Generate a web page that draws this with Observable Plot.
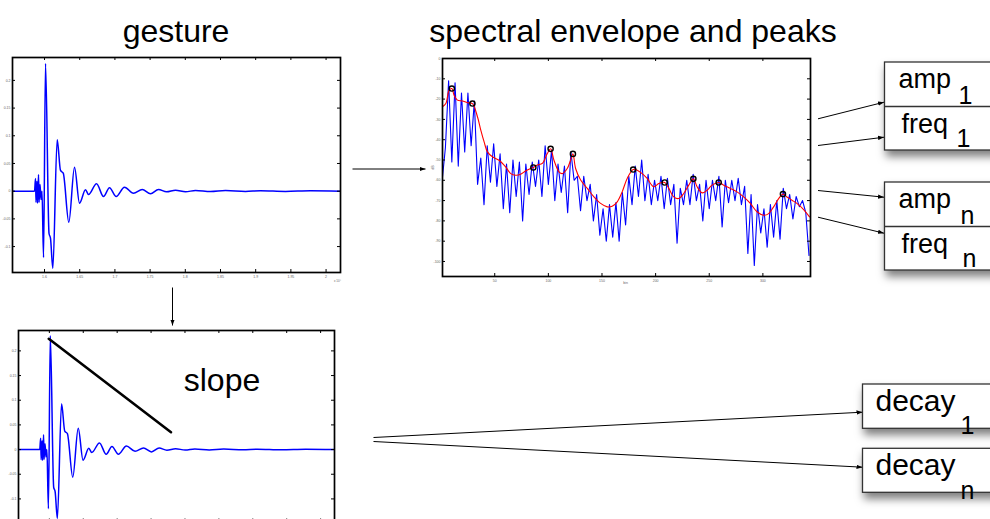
<!DOCTYPE html>
<html><head><meta charset="utf-8">
<script src="https://cdn.jsdelivr.net/npm/d3@7"></script>
<script src="https://cdn.jsdelivr.net/npm/@observablehq/plot@0.6"></script>
<style>
html,body{margin:0;padding:0;width:990px;height:519px;overflow:hidden;background:#fff;}
#wrap{position:relative;width:990px;height:519px;overflow:hidden;font-family:"Liberation Sans",Arial,Helvetica,sans-serif;}
#wrap svg{position:absolute;margin:0;overflow:visible;}
</style></head><body><div id="wrap"></div>
<script>
// ---------- data ----------
// gesture (time in samples x 10^4, amplitude)
const gestureX = [1.5545,1.5858,1.5872,1.5879,1.5893,1.5901,1.5915,1.5922,1.5936,1.5950,1.5964,1.5986,1.6014,1.6064,1.6085,1.6118,1.6180,1.6227,1.6266,1.6345,1.6426,1.6497,1.6582,1.6625,1.6739,1.6838,1.6923,1.7018,1.7136,1.7264,1.7388,1.7506,1.7619,1.7733,1.7861,1.8003,1.8145,1.8358,1.8571,1.8855,1.9068,1.9423,1.9778,2.0205];
const gestureY = [0,0,0.0229,-0.0204,0.018,-0.022,0.03,-0.02,0.012,-0.015,0,-0.1197,0.2305,-0.0764,-0.085,-0.1395,0.0928,0.0374,0.0325,-0.056,0.0433,-0.0217,0.0025,-0.006,0.0134,-0.0096,0.0061,-0.0096,0.0072,-0.0036,0.0031,-0.0047,0.0031,-0.0012,0.0018,-0.001,0.0012,-0.0008,0.001,-0.0005,0.0008,-0.0004,0.0006,0];
const gestureXTicks = [1.6,1.65,1.7,1.75,1.8,1.85,1.9,1.95,2];
const gestureYTicks = [-0.1,-0.05,0,0.05,0.1,0.15,0.2];
const gestureXDomain = [1.5545, 2.0205];
const gestureYDomain = [-0.1468, 0.2413];

// spectrum (bin, dB), sampled every 3 bins
const specBins = d3.range(1, 344, 3);
const specDb = [-60,-44,-11,-51,-12,-53,-17,-46,-17,-43,
  -21,-62,-49,-72,-43,-61,-42,-63,-47,-74,
  -52,-76,-50,-68,-51,-80,-52,-67,-51,-63,
  -50,-68,-43,-62,-45,-70,-52,-66,-53,-76,
  -46,-60,-58,-75,-58,-70,-62,-80,-67,-87,
  -74,-90,-72,-88,-71,-90,-66,-82,-58,-72,
  -53,-68,-50,-70,-57,-72,-60,-70,-58,-74,
  -59,-72,-62,-91,-64,-72,-60,-72,-57,-70,
  -62,-80,-60,-74,-60,-70,-58,-83,-60,-71,
  -60,-70,-59,-72,-63,-96,-67,-102,-72,-86,
  -74,-93,-72,-88,-70,-89,-64,-74,-67,-79,
  -68,-73,-70,-76,-97];
const envBin = [1.3,4.4,7.5,10.0,12.1,15.2,19.9,24.5,29.2,33.9,37.0,40.1,43.2,47.8,54.0,60.2,64.9,69.5,74.2,78.8,83.5,86.0,89.7,94.4,99.0,102.1,105.2,109.9,113.0,117.6,120.7,122.9,125.4,130.1,136.3,142.5,148.7,154.9,159.5,164.2,168.8,173.5,179.1,182.8,187.5,192.1,198.3,203.0,208.5,212.3,216.9,221.6,226.2,230.9,235.2,238.7,243.3,248.0,252.6,258.8,263.5,269.7,275.9,282.1,288.3,294.5,300.7,305.4,310.0,314.7,318.7,322.4,327.1,331.7,338.0,343.5];
const envDb = [-23.8,-22.2,-15.6,-14.8,-18.1,-20.5,-20.9,-21.8,-22.2,-28.7,-35.3,-41.1,-46.0,-48.4,-50.1,-53.4,-56.7,-57.5,-57.0,-55.4,-54.2,-53.7,-52.5,-51.7,-46.8,-44.5,-50.1,-55.8,-56.7,-54.2,-50.1,-47.0,-54.2,-59.9,-64.0,-68.2,-71.4,-73.1,-72.8,-70.6,-65.7,-59.1,-54.7,-55.0,-56.7,-59.1,-63.2,-61.6,-61.1,-64.0,-68.2,-69.0,-66.5,-62.4,-59.3,-63.2,-66.2,-64.9,-62.4,-61.1,-62.4,-64.0,-65.7,-68.2,-71.4,-75.5,-77.2,-76.4,-73.1,-69.0,-66.8,-68.2,-69.8,-71.4,-74.4,-78.0];
const peakBin = [10.0,29.2,86.0,102.1,122.9,179.1,208.5,235.2,258.8,318.7];
const peakDb = [-14.8,-22.2,-53.7,-44.5,-47.0,-54.7,-61.1,-59.3,-61.1,-66.8];
const specXTicks = [50,100,150,200,250,300];
const specYTicks = [0,-10,-20,-30,-40,-50,-60,-70,-80,-90,-100];
const specXDomain = [1.3, 344.4];
const specYDomain = [-107.4, 0];

// slope annotation (in gesture units)
const slopeX = [1.5991, 1.7794];
const slopeY = [0.2245, 0.0351];

// diagram labels
const titles = [{t:"gesture", x:175.5, y:41}, {t:"spectral envelope and peaks", x:632.5, y:41}];
const boxes = [
  {x1:884.5,x2:1000,y1:62,y2:150},{x1:884.5,x2:1000,y1:182,y2:270},
  {x1:862.5,x2:1000,y1:384,y2:428.3},{x1:862.5,x2:1000,y1:448.3,y2:492.3}];
const dividers = [{x1:884.5,x2:1000,y:106},{x1:884.5,x2:1000,y:226}];
const boxLabels = [
  {t:"amp",x:898,y:87.5},{t:"freq",x:901,y:132.5},{t:"amp",x:898,y:207.5},{t:"freq",x:901,y:252}];
const decayLabels = [{t:"decay",x:875,y:410},{t:"decay",x:875,y:474}];
const subLabels = [
  {t:"1",x:958,y:103},{t:"1",x:956,y:146.5},{t:"n",x:960,y:223},{t:"n",x:962,y:266.5},
  {t:"1",x:960,y:433},{t:"n",x:960,y:498}];
const arrows = [
  {x1:352,y1:168.5,x2:425,y2:168.5},
  {x1:172,y1:287,x2:172,y2:325},
  {x1:817.5,y1:118.3,x2:883.5,y2:101.7},
  {x1:817.5,y1:145,x2:883.5,y2:136.7},
  {x1:817.5,y1:190,x2:883.5,y2:196.7},
  {x1:817.5,y1:216.7,x2:883.5,y2:232.7},
  {x1:373,y1:437,x2:862,y2:411.7},
  {x1:373,y1:441,x2:862,y2:466.7}];

// ---------- helpers ----------
const FONT = '"Liberation Sans",Arial,Helvetica,sans-serif';
const wrap = document.getElementById("wrap");
function place(svg, left, top) {
  svg.style.left = left + "px"; svg.style.top = top + "px";
  svg.style.background = "transparent";
  wrap.appendChild(svg);
}
function frameMarks(xt, yt, iw, ih, len, fmtX, fmtY, xLabels) {
  return [
    Plot.tickX(xt, {x: d => d, insetTop: ih - len, stroke: "#000", strokeWidth: 1}),
    Plot.tickX(xt, {x: d => d, insetBottom: ih - len, stroke: "#000", strokeWidth: 1}),
    Plot.tickY(yt, {y: d => d, insetRight: iw - len, stroke: "#000", strokeWidth: 1}),
    Plot.tickY(yt, {y: d => d, insetLeft: iw - len, stroke: "#000", strokeWidth: 1}),
    ...(xLabels ? [Plot.axisX({ticks: xt, tickSize: 0, tickPadding: 3, fontSize: 3.5, fill: "#666", tickFormat: fmtX, label: null})] : []),
    Plot.axisY({ticks: yt, tickSize: 0, tickPadding: 2, fontSize: 3.5, fill: "#666", tickFormat: fmtY, label: null}),
    Plot.frame({stroke: "#000", strokeWidth: 1.7})
  ];
}
const gRows = gestureX.map((x, i) => ({x, y: gestureY[i]}));

function gesturePlot(W, H, m, withSlope) {
  const iw = W - m[1] - m[3], ih = H - m[0] - m[2];
  return Plot.plot({
    width: W, height: H,
    marginTop: m[0], marginRight: m[1], marginBottom: m[2], marginLeft: m[3],
    style: {fontFamily: FONT, background: "transparent", overflow: "visible"},
    x: {domain: gestureXDomain, axis: withSlope ? null : undefined}, y: {domain: gestureYDomain},
    marks: [
      Plot.line(gRows, {x: "x", y: "y", stroke: "#0000ff", strokeWidth: 1.5, curve: "monotone-x", clip: true}),
      ...frameMarks(gestureXTicks, gestureYTicks, iw, ih, 3, d => String(d), d => String(d), !withSlope),
      ...(withSlope ? [Plot.line(slopeX.map((x, i) => ({x, y: slopeY[i]})), {x: "x", y: "y", stroke: "#000", strokeWidth: 2.6})] : [])
    ]
  });
}

// gesture (top-left)
place(gesturePlot(350, 250, [17, 10, 18, 12], false), 0, 40);
// gesture with slope (bottom-left)
place(gesturePlot(345, 210, [10, 11, 8.5, 18], true), 0, 320);

// spectrum
{
  const W = 400, H = 250, m = [18, 10, 14, 22];
  const iw = W - m[1] - m[3], ih = H - m[0] - m[2];
  const sRows = specBins.map((b, i) => ({b, v: specDb[i]}));
  const eRows = envBin.map((b, i) => ({b, v: envDb[i]}));
  const pRows = peakBin.map((b, i) => ({b, v: peakDb[i]}));
  const svg = Plot.plot({
    width: W, height: H,
    marginTop: m[0], marginRight: m[1], marginBottom: m[2], marginLeft: m[3],
    style: {fontFamily: FONT, background: "transparent", overflow: "visible"},
    x: {domain: specXDomain}, y: {domain: specYDomain},
    marks: [
      Plot.line(sRows, {x: "b", y: "v", stroke: "#0000ff", strokeWidth: 1.1, clip: true}),
      Plot.line(eRows, {x: "b", y: "v", stroke: "#ff0000", strokeWidth: 1.1, curve: "catmull-rom"}),
      Plot.dot(pRows, {x: "b", y: "v", r: 2.6, stroke: "#000", strokeWidth: 1.4, fill: "none"}),
      ...frameMarks(specXTicks, specYTicks, iw, ih, 3, d => String(d), d => String(d), true)
    ]
  });
  place(svg, 420, 40);
}

// ---------- overlay diagram ----------
function headMarker(color, context) {
  const ns = "http://www.w3.org/2000/svg";
  const doc = (context && context.document) || document;
  const mk = doc.createElementNS(ns, "marker");
  mk.setAttribute("viewBox", "-10 -4 10 8");
  mk.setAttribute("markerWidth", 6);
  mk.setAttribute("markerHeight", 4.8);
  mk.setAttribute("markerUnits", "userSpaceOnUse");
  mk.setAttribute("orient", "auto");
  mk.setAttribute("refX", 0);
  mk.setAttribute("refY", 0);
  const p = doc.createElementNS(ns, "path");
  p.setAttribute("d", "M-10,-3.6L0,0L-10,3.6Z");
  p.setAttribute("fill", "#000");
  p.setAttribute("stroke", "none");
  mk.appendChild(p);
  return mk;
}
const overlay = Plot.plot({
  width: 990, height: 519, margin: 0,
  style: {fontFamily: FONT, background: "transparent", overflow: "visible"},
  x: {domain: [0, 990], range: [0, 990], axis: null},
  y: {domain: [0, 519], range: [0, 519], axis: null},
  marks: [
    Plot.link(arrows, {x1: "x1", y1: "y1", x2: "x2", y2: "y2", stroke: "#000", strokeWidth: 1, markerEnd: headMarker}),
    Plot.rect(boxes, {x1: "x1", x2: "x2", y1: "y1", y2: "y2", fill: "#fff", stroke: "#333", strokeWidth: 1.3}),
    Plot.ruleY(dividers, {x1: "x1", x2: "x2", y: "y", stroke: "#333", strokeWidth: 1.3}),
    Plot.text(boxLabels, {x: "x", y: "y", text: "t", textAnchor: "start", lineAnchor: "bottom", fontSize: 27, fill: "#000"}),
    Plot.text(decayLabels, {x: "x", y: "y", text: "t", textAnchor: "start", lineAnchor: "bottom", fontSize: 30, fill: "#000"}),
    Plot.text(subLabels, {x: "x", y: "y", text: "t", textAnchor: "start", lineAnchor: "bottom", fontSize: 25, fill: "#000"}),
    Plot.text(titles, {x: "x", y: "y", text: "t", textAnchor: "middle", lineAnchor: "bottom", fontSize: 32, fill: "#000"}),
    Plot.text([{t: "slope", x: 221.5, y: 390.7}], {x: "x", y: "y", text: "t", textAnchor: "middle", lineAnchor: "bottom", fontSize: 32, fill: "#000"}),
    Plot.text([{t: "x 10⁴", x: 337, y: 281}], {x: "x", y: "y", text: "t", textAnchor: "middle", fontSize: 3, fill: "#666"}),
    Plot.text([{t: "bin", x: 625, y: 282}], {x: "x", y: "y", text: "t", textAnchor: "middle", fontSize: 3.5, fill: "#666"}),
    Plot.text([{t: "dB", x: 432, y: 167}], {x: "x", y: "y", text: "t", rotate: -90, fontSize: 3.5, fill: "#666"})
  ]
});
place(overlay, 0, 0);
d3.select(overlay).selectAll('g[aria-label="rect"] rect')
  .style("filter", "drop-shadow(2px 6px 4px rgba(0,0,0,0.5))");
</script></body></html>
